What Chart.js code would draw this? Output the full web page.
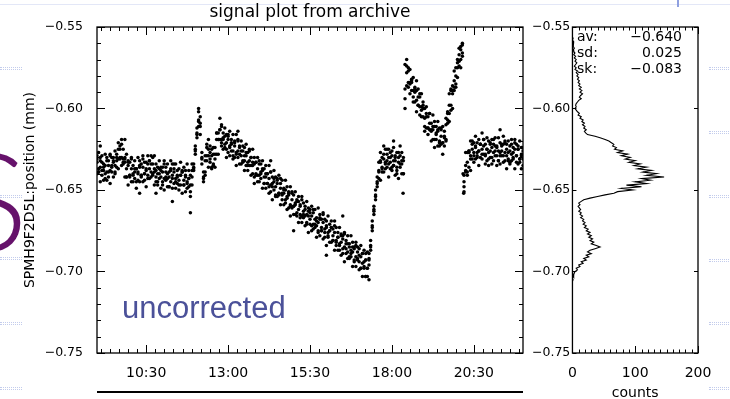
<!DOCTYPE html>
<html>
<head>
<meta charset="utf-8">
<script src="https://cdn.jsdelivr.net/npm/chart.js@4.4.1/dist/chart.umd.min.js"></script>
<style>
  html, body { margin: 0; padding: 0; background: #fff; }
  body { width: 730px; height: 399px; position: relative; overflow: hidden; font-family: "DejaVu Sans", sans-serif; }
  #mainWrap { position: absolute; left: 0; top: 0; width: 585px; height: 399px; }
  #histWrap { position: absolute; left: 564px; top: 0; width: 166px; height: 399px; }
  .abs { position: absolute; white-space: nowrap; line-height: 1; }
  .stat { font-size: 14px; color: #000; }
  .dots { position: absolute; width: 20px; height: 1px; border: 1px dotted #c3ccec; }
</style>
</head>
<body>
<div class="abs" style="left:0;top:4px;width:730px;height:1px;background:#e3e7f7"></div>
<div class="abs" style="left:677px;top:0;width:2px;height:7px;background:#8fa0e0"></div>
<div class="dots" style="left:0;top:67px"></div>
<div class="dots" style="left:0;top:195px"></div>
<div class="dots" style="left:0;top:257px"></div>
<div class="dots" style="left:0;top:322px"></div>
<div class="dots" style="left:0;top:387px"></div>
<div class="dots" style="left:709px;top:67px"></div>
<div class="dots" style="left:709px;top:131px"></div>
<div class="dots" style="left:709px;top:195px"></div>
<div class="dots" style="left:709px;top:259px"></div>
<div class="dots" style="left:709px;top:322px"></div>
<div class="dots" style="left:709px;top:387px"></div>
<div class="abs" id="bigS" style="left:-45px;top:117px;font:300 136px Lato, 'DejaVu Sans', sans-serif;color:#66126b">S</div>
<div id="mainWrap"><canvas id="mainChart"></canvas></div>
<div id="histWrap"><canvas id="histChart"></canvas></div>
<div class="abs" style="left:122px;top:292px;font-family:'Liberation Sans',Arial,sans-serif;font-size:31px;color:#4b5199">uncorrected</div>
<div class="abs" style="left:97px;top:391px;width:426px;height:2px;background:#000"></div>
<div class="abs stat" style="left:577px;top:29px">av:</div>
<div class="abs stat" style="left:577px;top:45px">sd:</div>
<div class="abs stat" style="left:577px;top:61px">sk:</div>
<div class="abs stat" style="right:48px;top:29px">−0.640</div>
<div class="abs stat" style="right:48px;top:45px">0.025</div>
<div class="abs stat" style="right:48px;top:61px">−0.083</div>
<script>
// time of day in decimal hours, four readings per sample time (mm)
const hours = [
  9,9.05,9.1,9.15,9.2,9.25,9.3,9.35,9.4,9.45,9.5,9.55,9.6,9.65,9.7,9.75,9.8,9.85,9.9,9.95,
  10,10.05,10.1,10.15,10.2,10.25,10.3,10.35,10.4,10.45,10.5,10.55,10.6,10.65,10.7,10.75,10.8,10.85,10.9,10.95,
  11,11.05,11.1,11.15,11.2,11.25,11.3,11.35,11.4,11.45,11.5,11.55,11.6,11.65,11.7,11.75,11.8,11.85,11.9,11.95,
  12,12.05,12.1,12.15,12.2,12.25,12.3,12.35,12.4,12.45,12.5,12.55,12.6,12.65,12.7,12.75,12.8,12.85,12.9,12.95,
  13,13.05,13.1,13.15,13.2,13.25,13.3,13.35,13.4,13.45,13.5,13.55,13.6,13.65,13.7,13.75,13.8,13.85,13.9,13.95,
  14,14.05,14.1,14.15,14.2,14.25,14.3,14.35,14.4,14.45,14.5,14.55,14.6,14.65,14.7,14.75,14.8,14.85,14.9,14.95,
  15,15.05,15.1,15.15,15.2,15.25,15.3,15.35,15.4,15.45,15.5,15.55,15.6,15.65,15.7,15.75,15.8,15.85,15.9,15.95,
  16,16.05,16.1,16.15,16.2,16.25,16.3,16.35,16.4,16.45,16.5,16.55,16.6,16.65,16.7,16.75,16.8,16.85,16.9,16.95,
  17,17.05,17.1,17.15,17.2,17.25,17.3,17.35,17.4,17.45,17.5,17.55,17.6,17.65,17.7,17.75,17.8,17.85,17.9,17.95,
  18,18.05,18.1,18.15,18.2,18.25,18.3,18.35,18.4,18.45,18.5,18.55,18.6,18.65,18.7,18.75,18.8,18.85,18.9,18.95,
  19,19.05,19.1,19.15,19.2,19.25,19.3,19.35,19.4,19.45,19.5,19.55,19.6,19.65,19.7,19.75,19.8,19.85,19.9,19.95,
  20,20.05,20.1,20.15,20.2,20.25,20.3,20.35,20.4,20.45,20.5,20.55,20.6,20.65,20.7,20.75,20.8,20.85,20.9,20.95,
  21,21.05,21.1,21.15,21.2,21.25,21.3,21.35,21.4,21.45,21.5,21.55,21.6,21.65,21.7,21.75,21.8,21.85,21.9,21.95,
  22
];
const posA = [
  -0.633,-0.637,-0.636,-0.633,-0.638,-0.635,-0.639,-0.635,-0.638,-0.635,-0.632,-0.635,-0.630,-0.631,-0.625,-0.630,-0.631,-0.631,-0.637,-0.635,
  -0.641,-0.637,-0.641,-0.639,-0.637,-0.640,-0.636,-0.641,-0.636,-0.640,-0.638,-0.634,-0.637,-0.634,-0.640,-0.637,-0.642,-0.640,-0.637,-0.642,
  -0.639,-0.643,-0.639,-0.643,-0.642,-0.638,-0.641,-0.639,-0.645,-0.642,-0.644,-0.641,-0.639,-0.644,-0.642,-0.646,-0.643,-0.647,-0.642,-0.636,
  -0.625,-0.615,-0.607,-0.611,-0.630,-0.642,-0.632,-0.629,-0.625,-0.631,-0.629,-0.634,-0.628,-0.619,-0.619,-0.613,-0.619,-0.618,-0.622,-0.621,
  -0.619,-0.623,-0.621,-0.626,-0.623,-0.627,-0.626,-0.624,-0.629,-0.626,-0.632,-0.629,-0.633,-0.632,-0.630,-0.635,-0.634,-0.640,-0.637,-0.641,
  -0.639,-0.637,-0.642,-0.640,-0.646,-0.643,-0.647,-0.646,-0.643,-0.648,-0.646,-0.652,-0.649,-0.653,-0.652,-0.650,-0.655,-0.653,-0.659,-0.656,
  -0.660,-0.659,-0.657,-0.662,-0.660,-0.666,-0.663,-0.666,-0.665,-0.663,-0.668,-0.666,-0.671,-0.668,-0.672,-0.670,-0.668,-0.673,-0.670,-0.676,
  -0.673,-0.676,-0.675,-0.673,-0.678,-0.676,-0.682,-0.679,-0.683,-0.682,-0.680,-0.685,-0.683,-0.688,-0.685,-0.689,-0.688,-0.686,-0.691,-0.688,
  -0.694,-0.691,-0.695,-0.694,-0.693,-0.698,-0.692,-0.684,-0.672,-0.662,-0.653,-0.645,-0.638,-0.632,-0.636,-0.631,-0.633,-0.632,-0.630,-0.633,
  -0.629,-0.635,-0.632,-0.636,-0.633,-0.629,-0.634,-0.632,-0.588,-0.578,-0.584,-0.584,-0.583,-0.589,-0.588,-0.595,-0.593,-0.599,-0.599,-0.598,
  -0.606,-0.605,-0.612,-0.609,-0.614,-0.613,-0.611,-0.616,-0.614,-0.620,-0.617,-0.621,-0.618,-0.610,-0.607,-0.598,-0.598,-0.589,-0.587,-0.580,
  -0.572,-0.571,-0.564,-0.566,-0.645,-0.638,-0.633,-0.627,-0.629,-0.625,-0.629,-0.624,-0.627,-0.626,-0.622,-0.625,-0.623,-0.629,-0.625,-0.627,
  -0.626,-0.624,-0.627,-0.623,-0.629,-0.626,-0.629,-0.626,-0.622,-0.627,-0.625,-0.631,-0.626,-0.628,-0.627,-0.625,-0.629,-0.625,-0.631,-0.628,
  -0.631
];
const posB = [
  -0.629,-0.627,-0.632,-0.629,-0.634,-0.628,-0.630,-0.632,-0.628,-0.630,-0.630,-0.626,-0.628,-0.621,-0.623,-0.619,-0.625,-0.630,-0.628,-0.632,
  -0.633,-0.630,-0.635,-0.632,-0.637,-0.630,-0.632,-0.634,-0.629,-0.633,-0.633,-0.629,-0.632,-0.629,-0.634,-0.629,-0.634,-0.636,-0.632,-0.636,
  -0.636,-0.632,-0.636,-0.634,-0.639,-0.632,-0.634,-0.637,-0.634,-0.638,-0.637,-0.633,-0.638,-0.636,-0.641,-0.634,-0.638,-0.641,-0.634,-0.634,
  -0.623,-0.612,-0.602,-0.605,-0.627,-0.639,-0.629,-0.624,-0.619,-0.623,-0.625,-0.624,-0.624,-0.615,-0.615,-0.606,-0.610,-0.615,-0.612,-0.616,
  -0.617,-0.614,-0.619,-0.616,-0.621,-0.616,-0.620,-0.623,-0.620,-0.623,-0.624,-0.622,-0.627,-0.625,-0.630,-0.625,-0.630,-0.633,-0.630,-0.634,
  -0.634,-0.632,-0.637,-0.635,-0.640,-0.635,-0.639,-0.642,-0.638,-0.642,-0.643,-0.641,-0.646,-0.644,-0.649,-0.644,-0.648,-0.651,-0.648,-0.652,
  -0.653,-0.651,-0.656,-0.654,-0.659,-0.654,-0.658,-0.660,-0.657,-0.661,-0.662,-0.660,-0.664,-0.662,-0.667,-0.661,-0.665,-0.668,-0.664,-0.668,
  -0.669,-0.666,-0.671,-0.669,-0.674,-0.669,-0.673,-0.676,-0.673,-0.677,-0.678,-0.676,-0.681,-0.678,-0.683,-0.678,-0.682,-0.685,-0.682,-0.685,
  -0.686,-0.684,-0.689,-0.687,-0.693,-0.688,-0.689,-0.681,-0.669,-0.660,-0.650,-0.642,-0.633,-0.627,-0.630,-0.623,-0.625,-0.628,-0.625,-0.627,
  -0.626,-0.624,-0.629,-0.627,-0.630,-0.623,-0.627,-0.630,-0.573,-0.570,-0.577,-0.576,-0.582,-0.581,-0.587,-0.583,-0.588,-0.593,-0.591,-0.596,
  -0.600,-0.599,-0.605,-0.603,-0.609,-0.604,-0.608,-0.611,-0.608,-0.612,-0.613,-0.611,-0.614,-0.606,-0.603,-0.591,-0.589,-0.586,-0.577,-0.575,
  -0.570,-0.563,-0.562,-0.560,-0.641,-0.627,-0.627,-0.626,-0.620,-0.622,-0.621,-0.617,-0.621,-0.619,-0.622,-0.615,-0.619,-0.622,-0.618,-0.620,
  -0.621,-0.619,-0.622,-0.618,-0.623,-0.618,-0.621,-0.622,-0.617,-0.621,-0.622,-0.620,-0.623,-0.619,-0.624,-0.619,-0.622,-0.623,-0.620,-0.624,
  -0.624
];
const posC = [
  -0.640,-0.639,-0.645,-0.641,-0.644,-0.640,-0.644,-0.642,-0.646,-0.639,-0.642,-0.640,-0.636,-0.637,-0.631,-0.635,-0.634,-0.642,-0.642,-0.647,
  -0.642,-0.645,-0.645,-0.643,-0.649,-0.644,-0.645,-0.641,-0.645,-0.644,-0.648,-0.641,-0.643,-0.642,-0.641,-0.647,-0.645,-0.647,-0.643,-0.649,
  -0.647,-0.650,-0.644,-0.648,-0.648,-0.645,-0.649,-0.646,-0.649,-0.646,-0.650,-0.647,-0.652,-0.647,-0.651,-0.649,-0.648,-0.654,-0.647,-0.638,
  -0.628,-0.618,-0.611,-0.616,-0.634,-0.645,-0.641,-0.632,-0.636,-0.633,-0.637,-0.635,-0.636,-0.628,-0.628,-0.619,-0.623,-0.625,-0.624,-0.630,
  -0.627,-0.629,-0.626,-0.631,-0.630,-0.635,-0.630,-0.634,-0.634,-0.632,-0.638,-0.635,-0.638,-0.635,-0.641,-0.640,-0.646,-0.641,-0.645,-0.645,
  -0.643,-0.649,-0.646,-0.649,-0.646,-0.652,-0.651,-0.656,-0.650,-0.654,-0.654,-0.653,-0.659,-0.656,-0.659,-0.656,-0.662,-0.661,-0.666,-0.661,
  -0.665,-0.665,-0.664,-0.670,-0.667,-0.670,-0.667,-0.672,-0.671,-0.676,-0.671,-0.675,-0.674,-0.673,-0.679,-0.675,-0.678,-0.675,-0.680,-0.679,
  -0.684,-0.678,-0.682,-0.682,-0.681,-0.687,-0.684,-0.687,-0.684,-0.690,-0.689,-0.694,-0.689,-0.692,-0.692,-0.691,-0.697,-0.694,-0.697,-0.693,
  -0.699,-0.698,-0.703,-0.698,-0.703,-0.703,-0.696,-0.687,-0.675,-0.665,-0.656,-0.648,-0.643,-0.644,-0.637,-0.639,-0.637,-0.636,-0.642,-0.637,
  -0.638,-0.635,-0.641,-0.640,-0.643,-0.636,-0.640,-0.640,-0.600,-0.586,-0.587,-0.591,-0.589,-0.596,-0.596,-0.602,-0.598,-0.604,-0.605,-0.605,
  -0.614,-0.612,-0.616,-0.613,-0.620,-0.619,-0.624,-0.619,-0.623,-0.623,-0.622,-0.628,-0.623,-0.620,-0.609,-0.608,-0.601,-0.600,-0.589,-0.587,
  -0.581,-0.574,-0.575,-0.568,-0.651,-0.639,-0.641,-0.636,-0.638,-0.631,-0.633,-0.631,-0.629,-0.635,-0.630,-0.631,-0.628,-0.634,-0.632,-0.635,
  -0.630,-0.634,-0.632,-0.629,-0.635,-0.632,-0.634,-0.629,-0.633,-0.632,-0.637,-0.632,-0.634,-0.632,-0.631,-0.637,-0.633,-0.634,-0.631,-0.637,
  -0.635
];
const posD = [
  -0.631,-0.639,-0.630,-0.638,-0.636,-0.643,-0.632,-0.639,-0.629,-0.636,-0.633,-0.639,-0.632,-0.625,-0.630,-0.622,-0.633,-0.633,-0.642,-0.633,
  -0.641,-0.631,-0.640,-0.637,-0.645,-0.639,-0.635,-0.642,-0.631,-0.640,-0.637,-0.643,-0.632,-0.639,-0.630,-0.639,-0.638,-0.645,-0.640,-0.638,
  -0.645,-0.634,-0.642,-0.640,-0.648,-0.637,-0.643,-0.634,-0.643,-0.641,-0.647,-0.641,-0.639,-0.647,-0.638,-0.645,-0.643,-0.651,-0.638,-0.637,
  -0.626,-0.616,-0.608,-0.609,-0.631,-0.643,-0.639,-0.622,-0.629,-0.627,-0.636,-0.628,-0.631,-0.615,-0.619,-0.613,-0.621,-0.619,-0.617,-0.625,
  -0.616,-0.624,-0.622,-0.629,-0.620,-0.628,-0.619,-0.628,-0.626,-0.633,-0.629,-0.627,-0.635,-0.626,-0.635,-0.633,-0.642,-0.633,-0.641,-0.632,
  -0.640,-0.638,-0.646,-0.642,-0.640,-0.648,-0.639,-0.648,-0.645,-0.653,-0.644,-0.652,-0.643,-0.652,-0.650,-0.658,-0.654,-0.652,-0.660,-0.651,
  -0.660,-0.658,-0.666,-0.657,-0.665,-0.656,-0.665,-0.662,-0.670,-0.666,-0.664,-0.672,-0.662,-0.671,-0.669,-0.676,-0.667,-0.675,-0.665,-0.674,
  -0.672,-0.679,-0.675,-0.673,-0.681,-0.672,-0.681,-0.679,-0.687,-0.678,-0.686,-0.677,-0.686,-0.683,-0.691,-0.687,-0.685,-0.693,-0.684,-0.692,
  -0.690,-0.698,-0.689,-0.697,-0.689,-0.698,-0.693,-0.685,-0.673,-0.663,-0.654,-0.646,-0.639,-0.633,-0.639,-0.628,-0.634,-0.625,-0.634,-0.630,
  -0.636,-0.632,-0.630,-0.638,-0.627,-0.634,-0.632,-0.640,-0.594,-0.574,-0.575,-0.585,-0.584,-0.593,-0.590,-0.589,-0.598,-0.591,-0.601,-0.600,
  -0.611,-0.603,-0.612,-0.603,-0.613,-0.611,-0.619,-0.615,-0.613,-0.621,-0.612,-0.621,-0.617,-0.619,-0.602,-0.603,-0.588,-0.591,-0.583,-0.585,
  -0.575,-0.567,-0.570,-0.561,-0.648,-0.635,-0.639,-0.626,-0.631,-0.620,-0.627,-0.623,-0.630,-0.626,-0.622,-0.628,-0.619,-0.628,-0.625,-0.631,
  -0.622,-0.630,-0.619,-0.626,-0.624,-0.632,-0.627,-0.623,-0.629,-0.620,-0.629,-0.627,-0.633,-0.622,-0.630,-0.621,-0.629,-0.625,-0.633,-0.629,
  -0.626
];
// sparse stray readings
const outlierHours = [9.1, 9.85, 10.3, 10.8, 11.3, 11.85, 12.1, 12.8, 13.3, 14.3, 15.0, 16.0, 16.5, 17.2, 17.3, 18.05, 18.34, 20.17, 20.19, 21.3];
const outlierPos = [-0.623, -0.619, -0.652, -0.652, -0.657, -0.664, -0.600, -0.611, -0.614, -0.632, -0.675, -0.690, -0.666, -0.703, -0.705, -0.620, -0.652, -0.640, -0.652, -0.613];

// histogram of the readings (position bin in mm, counts)
const histPos = [
  -0.556,-0.557,-0.558,-0.559,-0.560,-0.561,-0.562,-0.563,-0.564,-0.565,-0.566,-0.567,-0.568,-0.569,-0.570,-0.571,-0.572,-0.573,-0.574,-0.575,
  -0.576,-0.577,-0.578,-0.579,-0.580,-0.581,-0.582,-0.583,-0.584,-0.585,-0.586,-0.587,-0.588,-0.589,-0.590,-0.591,-0.592,-0.593,-0.594,-0.595,
  -0.596,-0.597,-0.598,-0.599,-0.600,-0.601,-0.602,-0.603,-0.604,-0.605,-0.606,-0.607,-0.608,-0.609,-0.610,-0.611,-0.612,-0.613,-0.614,-0.615,
  -0.616,-0.617,-0.618,-0.619,-0.620,-0.621,-0.622,-0.623,-0.624,-0.625,-0.626,-0.627,-0.628,-0.629,-0.630,-0.631,-0.632,-0.633,-0.634,-0.635,
  -0.636,-0.637,-0.638,-0.639,-0.640,-0.641,-0.642,-0.643,-0.644,-0.645,-0.646,-0.647,-0.648,-0.649,-0.650,-0.651,-0.652,-0.653,-0.654,-0.655,
  -0.656,-0.657,-0.658,-0.659,-0.660,-0.661,-0.662,-0.663,-0.664,-0.665,-0.666,-0.667,-0.668,-0.669,-0.670,-0.671,-0.672,-0.673,-0.674,-0.675,
  -0.676,-0.677,-0.678,-0.679,-0.680,-0.681,-0.682,-0.683,-0.684,-0.685,-0.686,-0.687,-0.688,-0.689,-0.690,-0.691,-0.692,-0.693,-0.694,-0.695,
  -0.696,-0.697,-0.698,-0.699,-0.700,-0.701,-0.702,-0.703,-0.704,-0.705,-0.706
];
const histCounts = [
  0,1,0,2,1,2,1,3,1,2,4,2,5,3,6,4,7,5,3,6,
  4,8,6,9,7,10,8,11,9,12,10,14,11,15,12,16,13,11,14,10,
  8,6,5,6,4,6,8,11,9,14,12,17,15,19,16,20,18,22,19,21,
  24,36,44,52,58,62,66,64,70,67,80,72,88,78,92,84,100,90,108,98,
  118,104,126,112,134,118,146,110,124,100,118,86,110,78,96,72,66,52,40,28,
  18,14,10,12,9,11,13,10,14,12,16,13,18,16,20,17,22,19,25,22,
  28,24,30,26,32,28,34,30,38,44,36,28,24,30,22,26,18,22,14,17,
  10,12,6,8,4,3,1,2,0,1,0
];

const timeTickValues = [10.5, 13, 15.5, 18, 20.5];
const timeTickLabels = ['10:30', '13:00', '15:30', '18:00', '20:30'];
const posTickValues = [-0.75, -0.70, -0.65, -0.60, -0.55];
const countTickValues = [0, 100, 200];

Chart.defaults.font.family = "'DejaVu Sans', sans-serif";
Chart.defaults.color = '#000';

const fmtPos = (v) => '\u2212' + Math.abs(v).toFixed(2);
const labelFont = { size: 14 };

// frame plus IDL style inward ticks
const frameTicks = {
  id: 'frameTicks',
  afterDatasetsDraw(chart, args, opts) {
    const { ctx, chartArea: a } = chart;
    const xs = chart.scales.x;
    const ys = chart.scales.y;
    ctx.save();
    ctx.strokeStyle = '#000';
    ctx.lineWidth = 1.3;
    ctx.strokeRect(a.left, a.top, a.right - a.left, a.bottom - a.top);
    ctx.beginPath();
    const vTicks = (vals, len) => vals.forEach((v) => {
      const px = Math.round(xs.getPixelForValue(v)) + 0.5;
      ctx.moveTo(px, a.bottom); ctx.lineTo(px, a.bottom - len);
      ctx.moveTo(px, a.top); ctx.lineTo(px, a.top + len);
    });
    const hTicks = (vals, len) => vals.forEach((v) => {
      const py = Math.round(ys.getPixelForValue(v)) + 0.5;
      ctx.moveTo(a.left, py); ctx.lineTo(a.left + len, py);
      ctx.moveTo(a.right, py); ctx.lineTo(a.right - len, py);
    });
    vTicks(opts.xMajor, opts.xMajorLen);
    vTicks(opts.xMinor, opts.xMinorLen);
    hTicks(opts.yMajor, opts.yMajorLen);
    hTicks(opts.yMinor || [], opts.yMinorLen || 0);
    ctx.lineWidth = 1;
    ctx.stroke();
    ctx.restore();
  },
};

function steps(from, to, step) {
  const out = [];
  for (let v = from; v <= to + 1e-9; v += step) out.push(+v.toFixed(6));
  return out;
}

const points = [];
hours.forEach((h, i) => {
  points.push({ x: h, y: posA[i] }, { x: h, y: posB[i] }, { x: h, y: posC[i] }, { x: h, y: posD[i] });
});
outlierHours.forEach((h, i) => points.push({ x: h, y: outlierPos[i] }));

const posAxis = (position, width, padding) => ({
  type: 'linear',
  position,
  min: -0.75,
  max: -0.55,
  grid: { display: false },
  border: { display: false },
  afterBuildTicks: (s) => { s.ticks = posTickValues.map((v) => ({ value: v })); },
  afterFit: (s) => { s.width = width; },
  ticks: { font: { size: 12.5 }, padding, callback: (v) => fmtPos(v) },
});

const leftAxis = posAxis('left', 97, 6);
leftAxis.title = {
  display: true,
  text: 'SPMH9F2D5L:position (mm)',
  font: { size: 14 },
  padding: { top: 21.6, bottom: 0 },
};

new Chart(document.getElementById('mainChart'), {
  type: 'scatter',
  data: {
    datasets: [{
      data: points,
      pointRadius: 1.75,
      pointHoverRadius: 0,
      backgroundColor: '#000',
      borderWidth: 0,
    }],
  },
  options: {
    responsive: true,
    maintainAspectRatio: false,
    animation: false,
    events: [],
    layout: { padding: { top: 2, left: 0, right: 0, bottom: 0 } },
    plugins: {
      legend: { display: false },
      tooltip: { enabled: false },
      title: {
        display: true,
        text: 'signal plot from archive',
        fullSize: false,
        font: { size: 17, weight: 'normal' },
        padding: { top: 0, bottom: 4.6 },
      },
      frameTicks: {
        xMajor: timeTickValues,
        xMinor: steps(10.5 - 2.5 * 5 / 9, 22, 2.5 / 9).filter((v) => v > 9 && v < 22),
        xMajorLen: 8,
        xMinorLen: 4,
        yMajor: posTickValues,
        yMinor: steps(-0.75, -0.55, 0.01),
        yMajorLen: 8,
        yMinorLen: 4,
      },
    },
    scales: {
      x: {
        type: 'linear',
        min: 9,
        max: 22,
        grid: { display: false },
        border: { display: false },
        afterBuildTicks: (s) => { s.ticks = timeTickValues.map((v) => ({ value: v })); },
        afterFit: (s) => { s.height = 46; },
        ticks: {
          font: labelFont,
          padding: 4,
          maxRotation: 0,
          autoSkip: false,
          callback: (v, i) => timeTickLabels[i],
        },
      },
      y: leftAxis,
      y2: posAxis('right', 62, 1),
    },
  },
  plugins: [frameTicks],
});

new Chart(document.getElementById('histChart'), {
  type: 'scatter',
  data: {
    datasets: [{
      data: histPos.map((p, i) => ({ x: histCounts[i], y: p })),
      showLine: true,
      borderColor: '#000',
      borderWidth: 1.1,
      pointRadius: 0,
      tension: 0,
    }],
  },
  options: {
    responsive: true,
    maintainAspectRatio: false,
    animation: false,
    events: [],
    layout: { padding: { top: 27, left: 0, right: 32, bottom: 0 } },
    plugins: {
      legend: { display: false },
      tooltip: { enabled: false },
      frameTicks: {
        xMajor: countTickValues,
        xMinor: steps(0, 200, 10),
        xMajorLen: 7,
        xMinorLen: 3.5,
        yMajor: posTickValues,
        yMajorLen: 4,
      },
    },
    scales: {
      x: {
        type: 'linear',
        min: 0,
        max: 200,
        grid: { display: false },
        border: { display: false },
        afterBuildTicks: (s) => { s.ticks = countTickValues.map((v) => ({ value: v })); },
        afterFit: (s) => { s.height = 46; },
        ticks: { font: labelFont, padding: 4, maxRotation: 0, autoSkip: false },
        title: { display: true, text: 'counts', font: { size: 14 }, padding: { top: 0, bottom: -3 } },
      },
      y: { type: 'linear', display: false, min: -0.75, max: -0.55 },
    },
  },
  plugins: [frameTicks],
});
</script>
</body>
</html>
